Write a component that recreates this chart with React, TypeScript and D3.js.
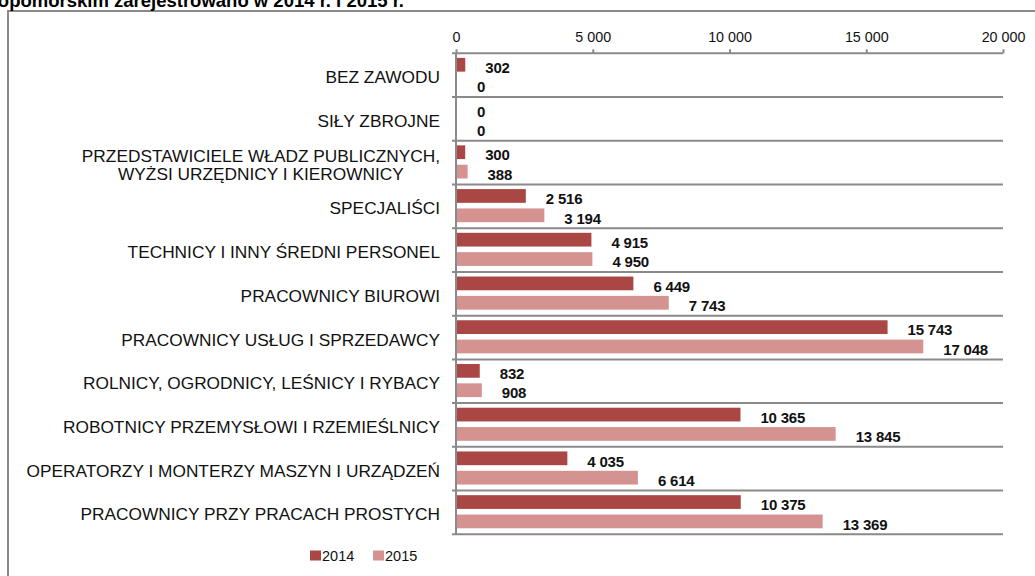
import React, { useEffect, useRef } from 'react';
import * as d3 from 'd3';

// Dane wykresu
const categories = [
  ['BEZ ZAWODU'],
  ['SIŁY ZBROJNE'],
  ['PRZEDSTAWICIELE WŁADZ PUBLICZNYCH,', 'WYŻSI URZĘDNICY I KIEROWNICY'],
  ['SPECJALIŚCI'],
  ['TECHNICY I INNY ŚREDNI PERSONEL'],
  ['PRACOWNICY BIUROWI'],
  ['PRACOWNICY USŁUG I SPRZEDAWCY'],
  ['ROLNICY, OGRODNICY, LEŚNICY I RYBACY'],
  ['ROBOTNICY PRZEMYSŁOWI I RZEMIEŚLNICY'],
  ['OPERATORZY I MONTERZY MASZYN I URZĄDZEŃ'],
  ['PRACOWNICY PRZY PRACACH PROSTYCH'],
];
const values2014 = [302, 0, 300, 2516, 4915, 6449, 15743, 832, 10365, 4035, 10375];
const values2015 = [0, 0, 388, 3194, 4950, 7743, 17048, 908, 13845, 6614, 13369];
const seriesNames = ['2014', '2015'];
const seriesColors = ['#AA4745', '#D49291'];
const xTicks = [0, 5000, 10000, 15000, 20000];
const title = 'w województwie zachodniopomorskim zarejestrowano w 2014 r. i 2015 r.';

const fmt = (v: number) => d3.format(',')(v).replace(/,/g, ' ');

const App = () => {
  const ref = useRef<SVGSVGElement>(null);

  useEffect(() => {
    const svg = d3.select(ref.current);
    svg.selectAll('*').remove();

    const font = 'Liberation Sans, Arial, sans-serif';
    const grid = '#8a8a8a';

    // ramka wykresu
    svg.append('rect')
      .attr('x', 8).attr('y', 11)
      .attr('width', 1100).attr('height', 600)
      .attr('fill', 'none').attr('stroke', grid).attr('stroke-width', 2);

    // tytuł (w oryginale ucięty u góry)
    svg.append('text')
      .attr('x', 404).attr('y', 7)
      .attr('text-anchor', 'end')
      .attr('font-family', font).attr('font-size', 18.5).attr('font-weight', 'bold')
      .text(title);

    const left = 456, right = 1003, top = 53.3, bottom = 534.3;
    const keys = categories.map((_, i) => String(i));

    const x = d3.scaleLinear().domain([0, 20000]).range([left, right]);
    const y = d3.scaleBand().domain(keys).range([top, bottom]).padding(0);
    const ySub = d3.scaleBand().domain(seriesNames).range([4.6, 37.7]).paddingInner(0.29);

    const g = svg.append('g');

    // linie poziome między kategoriami
    g.selectAll('line.sep')
      .data(keys)
      .enter()
      .append('line')
      .attr('x1', left - 4).attr('x2', right)
      .attr('y1', d => (y(d) as number) + y.bandwidth())
      .attr('y2', d => (y(d) as number) + y.bandwidth())
      .attr('stroke', grid).attr('stroke-width', 2);

    // oś górna
    const axis = g.append('g')
      .attr('transform', `translate(0,${top})`)
      .call(d3.axisTop(x).tickValues(xTicks).tickFormat(d => fmt(+d)).tickSize(4).tickPadding(7).tickSizeOuter(0));
    axis.select('.domain').attr('stroke', grid).attr('stroke-width', 2)
      .attr('d', `M${left - 4},0H${right}`);
    axis.selectAll('.tick line').attr('stroke', grid).attr('stroke-width', 2);
    axis.selectAll('.tick text')
      .attr('font-family', font).attr('font-size', 14.3).attr('fill', '#111');

    // oś pionowa
    g.append('line')
      .attr('x1', left).attr('x2', left)
      .attr('y1', top).attr('y2', bottom)
      .attr('stroke', grid).attr('stroke-width', 2);

    const series = [values2014, values2015];

    series.forEach((vals, si) => {
      const name = seriesNames[si];
      g.selectAll(`rect.s${si}`)
        .data(vals)
        .enter()
        .append('rect')
        .attr('x', x(0) + 1)
        .attr('y', (_, i) => (y(keys[i]) as number) + (ySub(name) as number))
        .attr('width', d => Math.max(0, x(d) - x(0)))
        .attr('height', ySub.bandwidth())
        .attr('fill', seriesColors[si]);

      g.selectAll(`text.v${si}`)
        .data(vals)
        .enter()
        .append('text')
        .attr('x', d => x(d) + 21)
        .attr('y', (_, i) => (y(keys[i]) as number) + (ySub(name) as number) + ySub.bandwidth() / 2 + 3)
        .attr('dy', '0.35em')
        .attr('font-family', font).attr('font-size', 15).attr('font-weight', 'bold')
        .attr('letter-spacing', -0.2)
        .attr('fill', '#111')
        .text(d => fmt(d));
    });

    // etykiety kategorii
    categories.forEach((lines, i) => {
      const cy = (y(keys[i]) as number) + y.bandwidth() / 2 + 2;
      const lh = 18.3;
      const t = g.append('text')
        .attr('font-family', font).attr('font-size', 17.3).attr('fill', '#111');
      const spans = lines.map((ln, j) => t.append('tspan')
        .attr('y', cy + (j - (lines.length - 1) / 2) * lh)
        .attr('dy', '0.35em')
        .text(ln));
      const widths = spans.map(s => (s.node() as SVGTSpanElement).getComputedTextLength());
      const maxW = d3.max(widths) as number;
      const cx = 440 - maxW / 2;
      t.attr('text-anchor', 'middle');
      spans.forEach(s => s.attr('x', cx));
    });

    // legenda
    const legendX = [310, 373];
    seriesNames.forEach((name, i) => {
      svg.append('rect')
        .attr('x', legendX[i]).attr('y', 550.5)
        .attr('width', 11).attr('height', 10)
        .attr('fill', seriesColors[i]);
      svg.append('text')
        .attr('x', legendX[i] + 12).attr('y', 560.5)
        .attr('font-family', font).attr('font-size', 14.5).attr('fill', '#111')
        .text(name);
    });
  }, []);

  return (
    <svg
      ref={ref}
      width={1035}
      height={576}
      style={{ position: 'absolute', left: 0, top: 0, background: '#fff' }}
    />
  );
};

export default App;
